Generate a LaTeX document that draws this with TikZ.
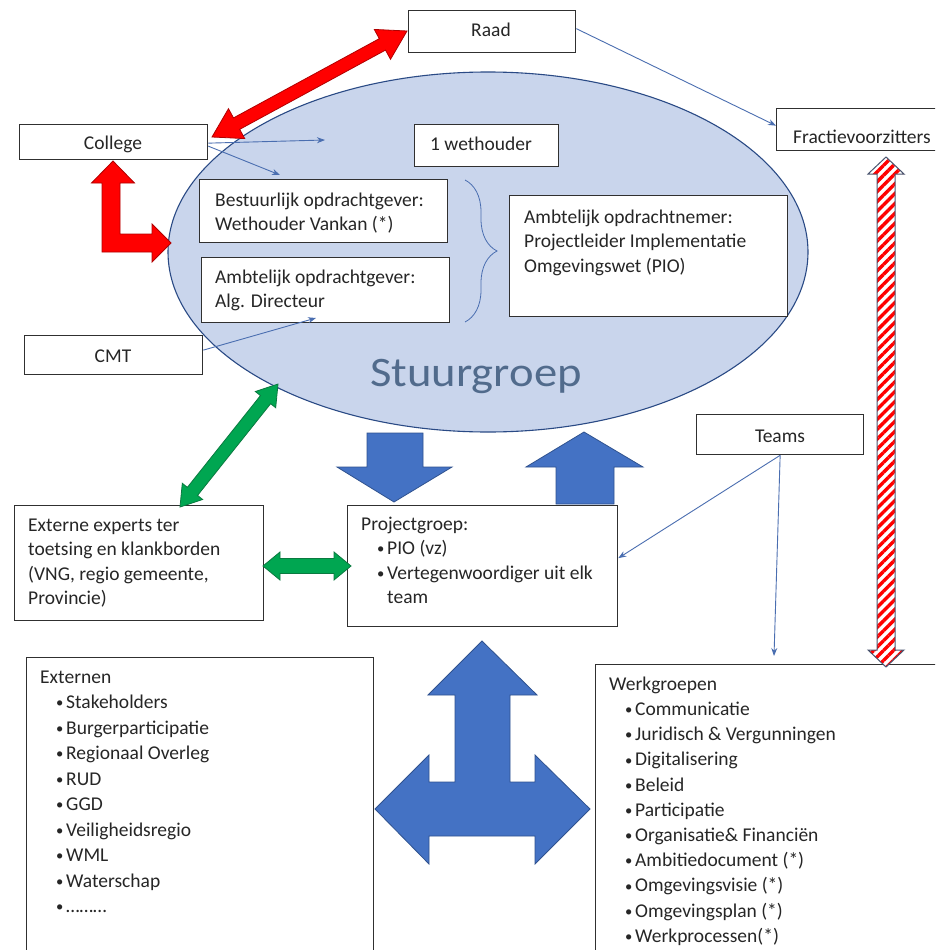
\documentclass[tikz,border=0pt]{standalone}
\usepackage{fontspec}
\setmainfont{Carlito}
\usetikzlibrary{arrows.meta,calc,shapes.geometric,patterns.meta,decorations.pathreplacing}
\definecolor{ellfill}{HTML}{C9D5EC}
\definecolor{elldraw}{HTML}{2A4A85}
\definecolor{bluefill}{HTML}{4472C4}
\definecolor{blueedge}{HTML}{2F528F}
\definecolor{thinblue}{HTML}{4A6EB0}
\definecolor{greenfill}{HTML}{00A651}
\definecolor{greenedge}{HTML}{0A7A40}
\definecolor{redfill}{HTML}{FF0000}
\definecolor{rededge}{HTML}{B00000}
\definecolor{hatchedge}{HTML}{4A5670}
\definecolor{boxedge}{HTML}{303030}
\definecolor{stuurtext}{HTML}{516B8C}
\definecolor{txtcol}{HTML}{262626}
% double-headed fat arrow between two named coordinates
\newcommand\fatdbl[6]{%
  \coordinate (#1-a) at ($(#1)!#5!(#2)$);
  \coordinate (#1-b) at ($(#2)!#5!(#1)$);
  \path[#6] (#1) -- ($(#1-a)!#4!90:(#2)$) -- ($(#1-a)!#3!90:(#2)$)
    -- ($(#1-b)!#3!-90:(#1)$) -- ($(#1-b)!#4!-90:(#1)$) -- (#2)
    -- ($(#1-b)!#4!90:(#1)$) -- ($(#1-b)!#3!90:(#1)$)
    -- ($(#1-a)!#3!-90:(#2)$) -- ($(#1-a)!#4!-90:(#2)$) -- cycle;}
\newcommand\mkbox[5]{\node[box, anchor=north west, minimum width=#4pt, minimum height=#5pt] (#1) at (#2,#3) {};}
\newcommand\bl[1]{\hspace*{15.5pt}\makebox[10.5pt][l]{\hspace{0.5pt}\raisebox{0.8pt}{\scalebox{0.75}{•}}}#1}
\begin{document}
\begin{tikzpicture}[x=1pt,y=-1pt,
  box/.style={draw=boxedge, line width=1.3pt, fill=white, inner sep=0pt, rectangle},
  txt/.style={inner sep=0pt, text=txtcol, font=\fontsize{19.5}{24.5}\selectfont},
  txtw/.style={txt, font=\fontsize{19.5}{25.2}\selectfont},
  txte/.style={txt, font=\fontsize{19.5}{25.5}\selectfont},
  thinarr/.style={draw=thinblue, line width=0.9pt, -{Stealth[length=8pt,width=6pt]}},
  bluearrow/.style={fill=bluefill, draw=blueedge, line width=0.8pt},
  redarrow/.style={fill=redfill, draw=rededge, line width=0.8pt},
  greenarrow/.style={fill=greenfill, draw=greenedge, line width=0.8pt}]
\useasboundingbox (0,0) rectangle (935,950);
\clip (0,0) rectangle (935,950);
\fill[white] (0,0) rectangle (935,950);

% Stuurgroep ellipse
\node[ellipse, draw=elldraw, fill=ellfill, line width=1.1pt, minimum width=640pt, minimum height=360pt, inner sep=0pt] (stuur) at (488,252) {};
\node[anchor=base, inner sep=0pt, text=stuurtext, font=\fontsize{42}{50}\selectfont] (stuurlabel) at (476,386) {\scalebox{1.11}[1]{Stuurgroep}};

% boxes
\mkbox{raad}{408}{10}{167}{42}
\mkbox{college}{19}{124}{188}{35}
\mkbox{fractie}{776}{108}{204}{42}
\mkbox{weth}{414}{124}{144}{42}
\mkbox{bestuur}{199}{179}{248}{63}
\mkbox{ambgever}{201}{257}{248}{65}
\mkbox{ambnemer}{509}{195}{278}{121}
\mkbox{cmt}{24}{335}{178}{39}
\mkbox{teams}{696}{414}{167}{40}
\mkbox{experts}{14}{505}{249}{115}
\mkbox{projgr}{347}{505}{270}{121}
\mkbox{externen}{26}{657}{347}{333}
\mkbox{werkgr}{595}{664}{385}{326}

% texts
\node[txt, anchor=base] (raad-t) at (491,37) {Raad};
\node[txt, anchor=base] (college-t) at (113,149) {College};
\node[txt, anchor=base west] (fractie-t) at (793,143) {Fractievoorzitters};
\node[txt, anchor=base west] (weth-t) at (430,150) {1 wethouder};
\node[txt, anchor=north west, align=left] (bestuur-t) at (215,188.85) {\strut Bestuurlijk opdrachtgever:\\Wethouder Vankan (*)};
\node[txt, anchor=north west, align=left] (ambgever-t) at (215,265.85) {\strut Ambtelijk opdrachtgever:\\Alg. Directeur};
\node[txt, anchor=north west, align=left] (ambnemer-t) at (524,205.85) {\strut Ambtelijk opdrachtnemer:\\Projectleider Implementatie\\Omgevingswet (PIO)};
\node[txt, anchor=base] (cmt-t) at (113,362) {CMT};
\node[txt, anchor=base] (teams-t) at (780,442) {Teams};
\node[txt, anchor=north west, align=left] (experts-t) at (28,513.85) {\strut Externe experts ter\\toetsing en klankborden\\(VNG, regio gemeente,\\Provincie)};
\node[txt, anchor=north west, align=left] (projgr-t) at (361,512.85) {\strut Projectgroep:\\\bl{PIO (vz)}\\\bl{Vertegenwoordiger uit elk}\\\hspace*{26pt}team};
\node[txte, anchor=north west, align=left] (externen-t) at (40,665.15) {\strut Externen\\\bl{Stakeholders}\\\bl{Burgerparticipatie}\\\bl{Regionaal Overleg}\\\bl{RUD}\\\bl{GGD}\\\bl{Veiligheidsregio}\\\bl{WML}\\\bl{Waterschap}\\\bl{………}};
\node[txtw, anchor=north west, align=left] (werkgr-t) at (609,672.36) {\strut Werkgroepen\\\bl{Communicatie}\\\bl{Juridisch \& Vergunningen}\\\bl{Digitalisering}\\\bl{Beleid}\\\bl{Participatie}\\\bl{Organisatie\& Financiën}\\\bl{Ambitiedocument (*)}\\\bl{Omgevingsvisie (*)}\\\bl{Omgevingsplan (*)}\\\bl{Werkprocessen(*)}};

% brace
\coordinate (brtop) at (465,180);
\coordinate (brbot) at (465,322);
\draw[thinblue, line width=0.8pt, decorate, decoration={brace, amplitude=32pt}] (brtop) -- (brbot);

% thin arrows
\coordinate (c1) at (325,140);
\coordinate (c2) at (280,175);
\coordinate (c3) at (316,318);
\coordinate (wgin) at (774,656);
\draw[thinarr] ([yshift=-1pt]college.east) -- (c1);
\draw[thinarr] ([yshift=-4pt]college.east) -- (c2);
\draw[thinarr] ([yshift=5pt]cmt.east) -- (c3);
\draw[thinarr] ([yshift=3pt]raad.east) -- ([yshift=4pt]fractie.west);
\draw[thinarr] (teams.south) -- ([yshift=8pt]projgr.east);
\draw[thinarr] (teams.south) -- (wgin);

% red arrows
\coordinate (rA) at (212,137);
\coordinate (rB) at (407,31);
\fatdbl{rA}{rB}{6.5pt}{17pt}{28pt}{redarrow}
\path[redarrow] (113,161) -- (134.5,183) -- (120,183) -- (120,234) -- (152,234) -- (152,224)
  -- (171,243) -- (152,262) -- (152,252) -- (102,252) -- (102,183) -- (91.5,183) -- cycle;

% hatched arrow
\coordinate (hA) at (886,157);
\coordinate (hB) at (886,667);
\fatdbl{hA}{hB}{9pt}{18pt}{17pt}{preaction={fill=white}, pattern={Lines[angle=45,distance=7pt,line width=3.4pt]}, pattern color=red, draw=hatchedge, line width=1pt}

% green arrows
\coordinate (gA) at (180,507);
\coordinate (gB) at (278,384);
\fatdbl{gA}{gB}{6.5pt}{13pt}{20pt}{greenarrow}
\coordinate (hgA) at (263,566);
\coordinate (hgB) at (351,566);
\fatdbl{hgA}{hgB}{7.5pt}{14pt}{17pt}{greenarrow}

% blue block arrows
\path[bluearrow] (367,433) -- (423,433) -- (423,467) -- (452,467) -- (394,502) -- (337,467) -- (367,467) -- cycle;
\path[bluearrow] (584,432) -- (643,467) -- (614,467) -- (614,504) -- (556,504) -- (556,467) -- (526,467) -- cycle;
\path[bluearrow] (482,641) -- (537,695) -- (510,695) -- (510,782) -- (535,782) -- (535,755) -- (590,809)
  -- (535,864) -- (535,836) -- (429,836) -- (429,864) -- (375,809) -- (429,755) -- (429,782)
  -- (455,782) -- (455,695) -- (428,695) -- cycle;
\end{tikzpicture}
\end{document}
